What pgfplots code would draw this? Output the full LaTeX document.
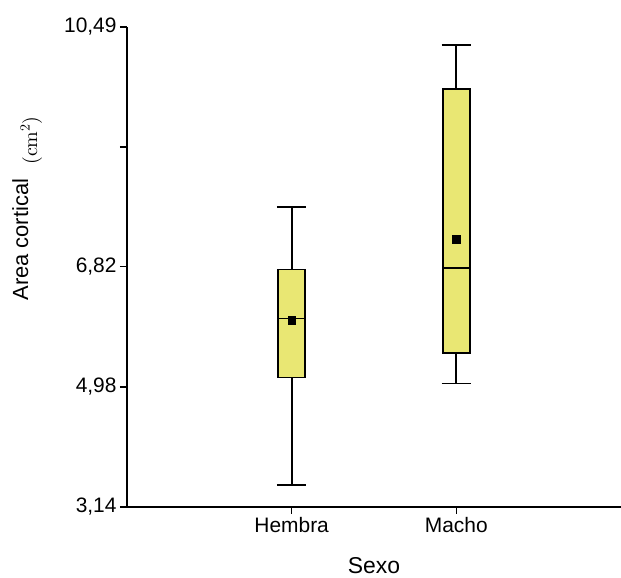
\documentclass[border=0pt]{standalone}
\usepackage{fontspec}
\setmainfont{Liberation Sans}
\newfontfamily\lmr{lmroman10-regular}[Extension=.otf]
\usepackage{pgfplots}
\pgfplotsset{compat=1.18}
\definecolor{boxyellow}{RGB}{233,231,115}
\pgfplotsset{wl/.style={black, line width=1.8pt, mark=none, solid, line join=miter}}

\begin{document}
\begin{tikzpicture}
\begin{axis}[
  scale only axis, width=494bp, height=480bp,
  xmin=0, xmax=3, ymin=3.14, ymax=10.49,
  axis x line=bottom, axis y line=left,
  axis line style={-, line width=1.6pt},
  xtick={1,2}, xticklabels={Hembra,Macho},
  ytick={3.14,4.98,6.82,8.655,10.49},
  yticklabels={{3,14},{4,98},{6,82},{},{10,49}},
  tick align=outside, major tick length=7bp,
  tick style={line width=1.6pt, black},
  ticklabel style={font=\fontsize{21}{25}\selectfont},
  xlabel={Sexo},
  xlabel style={font=\fontsize{23}{27}\selectfont, at={(axis description cs:0.5,0)}, anchor=base, yshift=-66.5bp},
  ylabel={Area cortical\hspace{14bp}\raisebox{-9bp}{\lmr\fontsize{20}{24}\selectfont (cm\textsuperscript{2})}},
  ylabel style={font=\fontsize{22}{26}\selectfont, at={(axis description cs:-0.202,0.622)}, anchor=center},
  clip=false,
]
% ---- Hembra: min 3.48, Q1 5.122, median 6.026, Q3 6.778, max 7.738, mean 6.000
\addplot[wl, fill=boxyellow] coordinates {(0.9185,5.122) (1.0815,5.122) (1.0815,6.778) (0.9185,6.778) (0.9185,5.122) (1.0815,5.122)};
\addplot[wl] coordinates {(1,6.778) (1,7.738)};
\addplot[wl] coordinates {(1,5.122) (1,3.48)};
\addplot[wl] coordinates {(0.91,7.738) (1.09,7.738)};
\addplot[wl] coordinates {(0.91,3.48) (1.09,3.48)};
\addplot[wl] coordinates {(0.9185,6.026) (1.09,6.026)};
% ---- Macho: min 5.030, Q1 5.499, median 6.803, Q3 9.539, max 10.218, mean 7.243
\addplot[wl, fill=boxyellow] coordinates {(1.9185,5.499) (2.0815,5.499) (2.0815,9.539) (1.9185,9.539) (1.9185,5.499) (2.0815,5.499)};
\addplot[wl] coordinates {(2,9.539) (2,10.218)};
\addplot[wl] coordinates {(2,5.499) (2,5.030)};
\addplot[wl] coordinates {(1.91,10.218) (2.09,10.218)};
\addplot[wl] coordinates {(1.91,5.030) (2.09,5.030)};
\addplot[wl] coordinates {(1.9185,6.803) (2.09,6.803)};
% ---- means
\addplot[only marks, mark=square*, mark size=3.8bp, black] coordinates {(1,6.000) (2,7.243)};
\end{axis}
\pgfresetboundingbox
\path ([shift={(-127bp,-70.5bp)}]current axis.south west) rectangle ([shift={(0bp,27bp)}]current axis.north east);
\end{tikzpicture}
\end{document}
